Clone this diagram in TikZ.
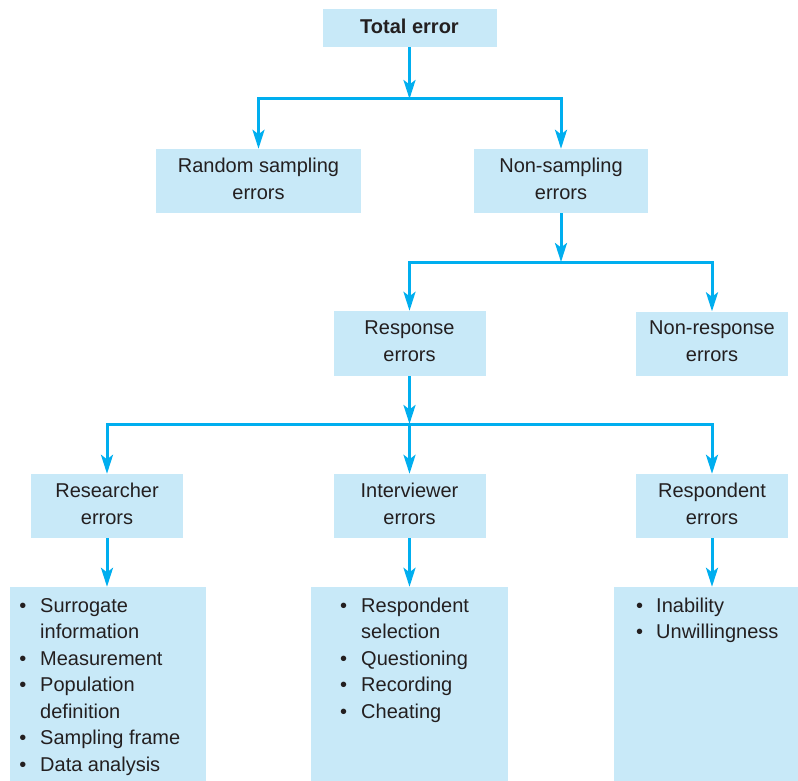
\documentclass[tikz,border=0pt]{standalone}
\usepackage{fontspec}
\setmainfont{Liberation Sans}
\usetikzlibrary{arrows.meta}
\definecolor{boxfill}{RGB}{200,233,248}
\definecolor{flow}{RGB}{0,174,239}
\definecolor{ink}{RGB}{35,31,32}
\newcommand\labelfont{\fontsize{20}{27}\selectfont}

\begin{document}
\begin{tikzpicture}[x=1pt,y=-1pt,
  box/.style={fill=boxfill, inner sep=0pt, text=ink, font=\labelfont,
    align=center, text depth=5pt},
  listbox/.style={fill=boxfill, inner sep=0pt},
  item/.style={anchor=base west, inner sep=0pt, text=ink, font=\labelfont},
  dot/.style={anchor=base, inner sep=0pt, text=ink, font=\labelfont},
  arr/.style={draw=flow, line width=3pt,
    -{Stealth[length=19pt,width=12pt,inset=4.5pt]}},
]
\useasboundingbox (0,0) rectangle (798,781);

% error categories
\node[box, minimum width=174pt, minimum height=38pt, text depth=4pt,
  font=\labelfont\bfseries] (total) at (409.5,28) {Total error};
\node[box, minimum width=205pt, minimum height=64pt] (rand) at (258.5,181)
  {Random sampling\\errors};
\node[box, minimum width=174pt, minimum height=64pt] (nons) at (561,181)
  {Non-sampling\\errors};
\node[box, minimum width=152pt, minimum height=65pt] (resp) at (409.5,343.5)
  {Response\\errors};
\node[box, minimum width=152pt, minimum height=64pt] (nonr) at (712,343.5)
  {Non-response\\errors};
\node[box, minimum width=152pt, minimum height=64pt] (rser) at (107,506)
  {Researcher\\errors};
\node[box, minimum width=152pt, minimum height=64pt] (intv) at (409.5,506)
  {Interviewer\\errors};
\node[box, minimum width=152pt, minimum height=64pt] (rspd) at (712,506)
  {Respondent\\errors};

% detail boxes
\node[listbox, minimum width=196pt, minimum height=194pt] (list1) at (108,684) {};
\node[listbox, minimum width=197pt, minimum height=194pt] (list2) at (409.5,684) {};
\node[listbox, minimum width=184pt, minimum height=194pt] (list3) at (706,684) {};

% researcher items
\node[dot] (b11) at (23,612) {\textbullet};
\node[item] (t11) at (40,612) {Surrogate};
\node[item] (t12) at (40,638.5) {information};
\node[dot] (b13) at (23,665) {\textbullet};
\node[item] (t13) at (40,665) {Measurement};
\node[dot] (b14) at (23,691.5) {\textbullet};
\node[item] (t14) at (40,691.5) {Population};
\node[item] (t15) at (40,718) {definition};
\node[dot] (b16) at (23,744.5) {\textbullet};
\node[item] (t16) at (40,744.5) {Sampling frame};
\node[dot] (b17) at (23,771) {\textbullet};
\node[item] (t17) at (40,771) {Data analysis};

% interviewer items
\node[dot] (b21) at (343.5,612) {\textbullet};
\node[item] (t21) at (361,612) {Respondent};
\node[item] (t22) at (361,638.5) {selection};
\node[dot] (b23) at (343.5,665) {\textbullet};
\node[item] (t23) at (361,665) {Questioning};
\node[dot] (b24) at (343.5,691.5) {\textbullet};
\node[item] (t24) at (361,691.5) {Recording};
\node[dot] (b25) at (343.5,718) {\textbullet};
\node[item] (t25) at (361,718) {Cheating};

% respondent items
\node[dot] (b31) at (639.5,612) {\textbullet};
\node[item] (t31) at (656,612) {Inability};
\node[dot] (b32) at (639.5,638.5) {\textbullet};
\node[item] (t32) at (656,638.5) {Unwillingness};

% branch points
\coordinate (j1) at (409.5,99);
\coordinate (j2) at (561,262);
\coordinate (j3) at (409.5,424);

% connectors
\draw[arr] (total.south) -- (j1);
\draw[arr] (j1) -| (rand.north);
\draw[arr] (j1) -| (nons.north);
\draw[arr] (nons.south) -- (j2);
\draw[arr] (j2) -| (resp.north);
\draw[arr] (j2) -| (nonr.north);
\draw[arr] (resp.south) -- (j3);
\draw[arr] (j3) -| (rser.north);
\draw[arr] (j3) -- (intv.north);
\draw[arr] (j3) -| (rspd.north);
\draw[arr] (rser.south) -- (rser.south |- list1.north);
\draw[arr] (intv.south) -- (intv.south |- list2.north);
\draw[arr] (rspd.south) -- (rspd.south |- list3.north);
\end{tikzpicture}
\end{document}
